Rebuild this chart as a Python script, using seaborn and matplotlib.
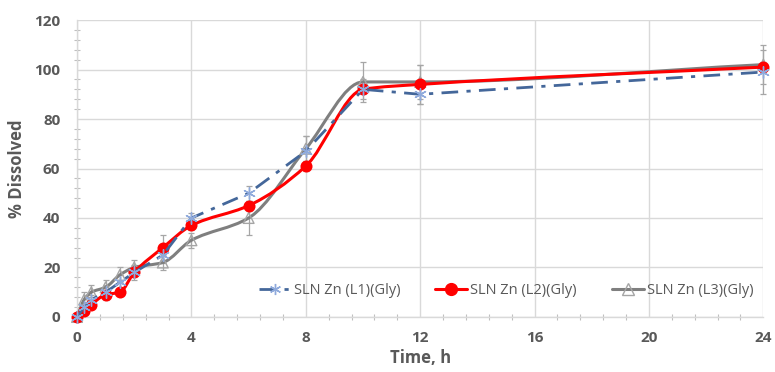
import numpy as np
import pandas as pd
import matplotlib
matplotlib.use("Agg")
import matplotlib.pyplot as plt
from matplotlib.path import Path
from matplotlib.patches import PathPatch
from matplotlib.ticker import MultipleLocator
from matplotlib.lines import Line2D
import seaborn as sns

time_h = [0, 0.25, 0.5, 1, 1.5, 2, 3, 4, 6, 8, 10, 12, 24]
l1 = [0, 4, 7, 10, 14, 18, 25, 40, 50, 67, 92, 90, 99]
l1_err = [1, 2, 2, 3, 3, 3, 3, 2, 3, 6, 4, 4, 9]
l2 = [0, 2.5, 5, 9, 10, 18, 28, 37, 45, 61, 92, 94, 101]
l2_err = [1, 1, 1, 1, 1, 2, 5, 2, 2, 2, 2, 8, 2]
l3 = [0, 7, 10, 12, 17, 20, 22, 31, 40, 68, 95, 95, 102]
l3_err = [1, 3, 3, 3, 3, 3, 3, 3, 7, 5, 8, 7, 8]
labels = ["SLN Zn (L1)(Gly)", "SLN Zn (L2)(Gly)", "SLN Zn (L3)(Gly)"]
xticks = [0, 4, 8, 12, 16, 20, 24]
yticks = [0, 20, 40, 60, 80, 100, 120]

sns.set_theme(style="white")
plt.rcParams['font.family'] = ['Open Sans', 'DejaVu Sans']

fig = plt.figure(figsize=(7.75, 3.72), dpi=100)
ax = fig.add_axes([0.0994, 0.148, 0.8856, 0.798])

def smooth_path(x, y):
    """Cubic Bezier path through the data points, PCHIP-style tangents."""
    x = np.asarray(x, float); y = np.asarray(y, float)
    n = len(x)
    h = np.diff(x)
    delta = np.diff(y) / h
    d = np.zeros(n)
    d[0] = delta[0]
    d[-1] = delta[-1]
    for i in range(1, n - 1):
        if delta[i - 1] * delta[i] <= 0:
            d[i] = 0.0
        else:
            w1 = 2 * h[i] + h[i - 1]
            w2 = h[i] + 2 * h[i - 1]
            d[i] = (w1 + w2) / (w1 / delta[i - 1] + w2 / delta[i])
    verts = [(x[0], y[0])]
    codes = [Path.MOVETO]
    for i in range(n - 1):
        hh = h[i]
        verts += [(x[i] + hh / 3, y[i] + d[i] * hh / 3),
                  (x[i + 1] - hh / 3, y[i + 1] - d[i + 1] * hh / 3),
                  (x[i + 1], y[i + 1])]
        codes += [Path.CURVE4] * 3
    return Path(verts, codes)

err_kw = dict(fmt='none', ecolor='#A6A6A6', elinewidth=0.9, capsize=2.5, capthick=0.9, zorder=2)
for vals, errs in [(l1, l1_err), (l2, l2_err), (l3, l3_err)]:
    eb = ax.errorbar(time_h, vals, yerr=errs, **err_kw)
    for art in eb.lines[1] + eb.lines[2]:
        art.set_clip_on(False)

# L3 gray smooth
ax.add_patch(PathPatch(smooth_path(time_h, l3), facecolor='none', edgecolor='#7F7F7F', lw=2.2,
                       zorder=3, clip_on=False))
df3 = pd.DataFrame({"t": time_h, "v": l3})
sns.scatterplot(data=df3, x="t", y="v", ax=ax, marker='^', s=60, facecolor='none',
                edgecolor='#A5A5A5', linewidth=1.0, zorder=4, clip_on=False)

# L2 red smooth
ax.add_patch(PathPatch(smooth_path(time_h, l2), facecolor='none', edgecolor='#FF0000', lw=2.2,
                       zorder=5, clip_on=False))
df2 = pd.DataFrame({"t": time_h, "v": l2})
sns.scatterplot(data=df2, x="t", y="v", ax=ax, marker='o', s=75, color='#FF0000',
                edgecolor='#FF0000', linewidth=0, zorder=6, clip_on=False)

# L1 blue dash-dot
df1 = pd.DataFrame({"t": time_h, "v": l1})
sns.lineplot(data=df1, x="t", y="v", ax=ax, color='#44679A', lw=2.0, zorder=7,
             dashes=False, linestyle=(0, (6, 3, 1.5, 3)), clip_on=False)
sns.scatterplot(data=df1, x="t", y="v", ax=ax, marker=(6, 2, 0), s=70,
                color='#8FAADC', linewidth=1.0, zorder=8, clip_on=False)

# Legend handles
h1 = Line2D([], [], color='#44679A', lw=2.0, linestyle=(0, (6, 3, 1.5, 3)), marker=(6, 2, 0),
            markersize=8, markeredgecolor='#8FAADC', markerfacecolor='#8FAADC')
h2 = Line2D([], [], color='#FF0000', lw=2.2, marker='o', markersize=8.5, markerfacecolor='#FF0000',
            markeredgecolor='#FF0000')
h3 = Line2D([], [], color='#7F7F7F', lw=2.2, marker='^', markersize=8, markerfacecolor='none',
            markeredgecolor='#A5A5A5')
leg = ax.legend([h1, h2, h3], labels, ncol=3, loc='center', bbox_to_anchor=(0.625, 0.09),
                frameon=False, fontsize=10.5, handlelength=2.2, handletextpad=0.2,
                columnspacing=2.4, labelcolor='#595959')

ax.set_xlim(0, 24)
ax.set_ylim(0, 120)
ax.set_xticks(xticks)
ax.set_yticks(yticks)
ax.xaxis.set_minor_locator(MultipleLocator(0.8))
ax.yaxis.set_minor_locator(MultipleLocator(4))
ax.grid(True, which='major', color='#D9D9D9', lw=1.0)
ax.set_axisbelow(True)
for s in ['top', 'right']:
    ax.spines[s].set_visible(False)
for s in ['left', 'bottom']:
    ax.spines[s].set_color('#D9D9D9')
    ax.spines[s].set_linewidth(1.0)
ax.tick_params(which='major', length=0, labelsize=11, labelcolor='#595959')
ax.tick_params(axis='y', which='major', pad=12)
ax.tick_params(axis='x', which='major', pad=10)
ax.tick_params(which='minor', direction='inout', length=5, width=0.8, color='#BFBFBF',
               bottom=True, left=True)
for lab in ax.get_xticklabels() + ax.get_yticklabels():
    lab.set_fontweight('bold')
ax.set_xlabel("Time, h", fontsize=12, fontweight='bold', color='#595959', labelpad=3)
ax.set_ylabel("% Dissolved", fontsize=12, fontweight='bold', color='#595959', labelpad=6)

fig.savefig("out.png", dpi=100)
